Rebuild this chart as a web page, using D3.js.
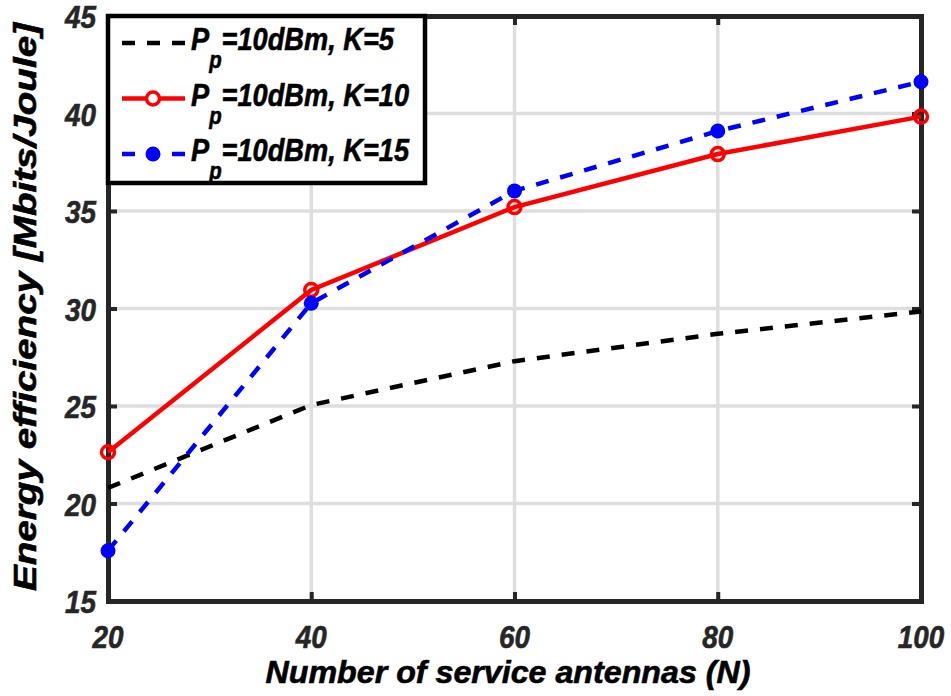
<!DOCTYPE html>
<html>
<head>
<meta charset="utf-8">
<script src="https://cdn.jsdelivr.net/npm/d3@7"></script>
<style>
  body { margin: 0; background: #fff; }
  text { font-family: "Liberation Sans", Arial, sans-serif; font-weight: bold; font-style: italic; }
</style>
</head>
<body>
<div id="chart"></div>
<script>
// values
const antennas = [20, 40, 60, 80, 100];
const k5 = [20.8, 25.05, 27.3, 28.7, 29.85];
const k10 = [22.63, 30.95, 35.2, 37.92, 39.84];
const k15 = [17.58, 30.27, 36.03, 39.1, 41.63];
const xTicks = [20, 40, 60, 80, 100];
const yTicks = [15, 20, 25, 30, 35, 40, 45];
const seriesNames = ["K=5", "K=10", "K=15"];

const width = 951, height = 696;
const margin = {left: 108, right: 30, top: 16, bottom: 95};

const svg = d3.select("#chart").append("svg")
    .attr("width", width)
    .attr("height", height);

const x = d3.scaleLinear().domain([20, 100]).range([margin.left, width - margin.right]);
const y = d3.scaleLinear().domain([15, 45]).range([height - margin.bottom, margin.top]);

const axisColor = "#262626";

// grid
svg.append("g").selectAll("line")
    .data(xTicks.slice(1, -1))
    .enter().append("line")
    .attr("x1", d => x(d)).attr("x2", d => x(d))
    .attr("y1", y(15)).attr("y2", y(45))
    .style("stroke", "#dedede").style("stroke-width", 3.5);

svg.append("g").selectAll("line")
    .data(yTicks.slice(1, -1))
    .enter().append("line")
    .attr("x1", x(20)).attr("x2", x(100))
    .attr("y1", d => y(d)).attr("y2", d => y(d))
    .style("stroke", "#dedede").style("stroke-width", 3.5);

// axes (ticks inside, box on)
const xAxis = d3.axisBottom(x).tickValues(xTicks).tickSize(-9).tickFormat("").tickSizeOuter(0);
const yAxis = d3.axisLeft(y).tickValues(yTicks).tickSize(-9).tickFormat("").tickSizeOuter(0);
const xAxisTop = d3.axisTop(x).tickValues(xTicks).tickSize(-9).tickFormat("").tickSizeOuter(0);
const yAxisRight = d3.axisRight(y).tickValues(yTicks).tickSize(-9).tickFormat("").tickSizeOuter(0);

function styleAxis(g) {
    g.selectAll("path").style("stroke", axisColor).style("stroke-width", 5).style("stroke-linecap", "square");
    g.selectAll("line").style("stroke", axisColor).style("stroke-width", 4);
}
svg.append("g").attr("transform", `translate(0,${y(15)})`).call(xAxis).call(styleAxis);
svg.append("g").attr("transform", `translate(${x(20)},0)`).call(yAxis).call(styleAxis);
svg.append("g").attr("transform", `translate(0,${y(45)})`).call(xAxisTop).call(styleAxis);
svg.append("g").attr("transform", `translate(${x(100)},0)`).call(yAxisRight).call(styleAxis);

// tick labels
svg.append("g").selectAll("text")
    .data(xTicks)
    .enter().append("text")
    .attr("x", d => x(d))
    .attr("y", y(15) + 47)
    .attr("text-anchor", "middle")
    .attr("textLength", d => String(d).length * 15.5)
    .attr("lengthAdjust", "spacingAndGlyphs")
    .style("font-size", "31px")
    .style("fill", axisColor)
    .style("stroke", axisColor).style("stroke-width", 0.6)
    .text(d => d);

svg.append("g").selectAll("text")
    .data(yTicks)
    .enter().append("text")
    .attr("x", x(20) - 12)
    .attr("y", d => y(d) + 12)
    .attr("text-anchor", "end")
    .attr("textLength", d => String(d).length * 15.5)
    .attr("lengthAdjust", "spacingAndGlyphs")
    .style("font-size", "31px")
    .style("fill", axisColor)
    .style("stroke", axisColor).style("stroke-width", 0.6)
    .text(d => d);

// axis titles
svg.append("text")
    .attr("x", 508)
    .attr("y", 683)
    .attr("text-anchor", "middle")
    .attr("textLength", 485)
    .attr("lengthAdjust", "spacingAndGlyphs")
    .style("font-size", "32px")
    .style("fill", "#000")
    .style("stroke", "#000").style("stroke-width", 0.6)
    .text("Number of service antennas (N)");

svg.append("text")
    .attr("transform", `translate(36,307) rotate(-90)`)
    .attr("text-anchor", "middle")
    .attr("textLength", 568)
    .attr("lengthAdjust", "spacingAndGlyphs")
    .style("font-size", "32px")
    .style("fill", "#000")
    .style("stroke", "#000").style("stroke-width", 0.6)
    .text("Energy efficiency [Mbits/Joule]");

// lines
const line = d3.line()
    .x((d, i) => x(antennas[i]))
    .y(d => y(d));

svg.append("path").datum(k5)
    .attr("d", line)
    .style("fill", "none").style("stroke", "#000").style("stroke-width", 4.5)
    .style("stroke-dasharray", "13,12");

svg.append("path").datum(k10)
    .attr("d", line)
    .style("fill", "none").style("stroke", "#ff0000").style("stroke-width", 4.5);

svg.append("path").datum(k15)
    .attr("d", line)
    .style("fill", "none").style("stroke", "#0000ff").style("stroke-width", 4.5)
    .style("stroke-dasharray", "13,12");

svg.append("g").selectAll("circle")
    .data(k10)
    .enter().append("circle")
    .attr("cx", (d, i) => x(antennas[i]))
    .attr("cy", d => y(d))
    .attr("r", 6.5)
    .style("fill", "none").style("stroke", "#ff0000").style("stroke-width", 3.5);

svg.append("g").selectAll("circle")
    .data(k15)
    .enter().append("circle")
    .attr("cx", (d, i) => x(antennas[i]))
    .attr("cy", d => y(d))
    .attr("r", 7.5)
    .style("fill", "#0000ff");

// legend
const legend = svg.append("g");
legend.append("rect")
    .attr("x", 108).attr("y", 16)
    .attr("width", 317).attr("height", 167)
    .style("fill", "#fff").style("stroke", "#000").style("stroke-width", 4.5);

const legendY = [43, 98.5, 154];
const legendStyles = [
    {color: "#000", dash: "13,12", marker: null},
    {color: "#ff0000", dash: null, marker: "open"},
    {color: "#0000ff", dash: "13,12", marker: "filled"}
];

seriesNames.forEach((name, i) => {
    const ly = legendY[i];
    const st = legendStyles[i];
    legend.append("line")
        .attr("x1", 122).attr("x2", 185)
        .attr("y1", ly).attr("y2", ly)
        .style("stroke", st.color).style("stroke-width", 4.5)
        .style("stroke-dasharray", st.dash);
    if (st.marker === "open") {
        legend.append("circle").attr("cx", 153).attr("cy", ly).attr("r", 6.5)
            .style("fill", "#fff").style("stroke", st.color).style("stroke-width", 3.5);
    } else if (st.marker === "filled") {
        legend.append("circle").attr("cx", 153).attr("cy", ly).attr("r", 7.5)
            .style("fill", st.color);
    }
    const t = legend.append("text")
        .attr("transform", `translate(191,${ly + 7}) scale(0.85,1)`)
        .style("font-size", "32px")
        .style("fill", "#000")
        .style("stroke", "#000").style("stroke-width", 0.6);
    t.append("tspan").text("P");
    t.append("tspan").attr("dy", 18).style("font-size", "24px").text("p");
    t.append("tspan").attr("dy", -18).text("=10dBm, " + name);
});
</script>
</body>
</html>
